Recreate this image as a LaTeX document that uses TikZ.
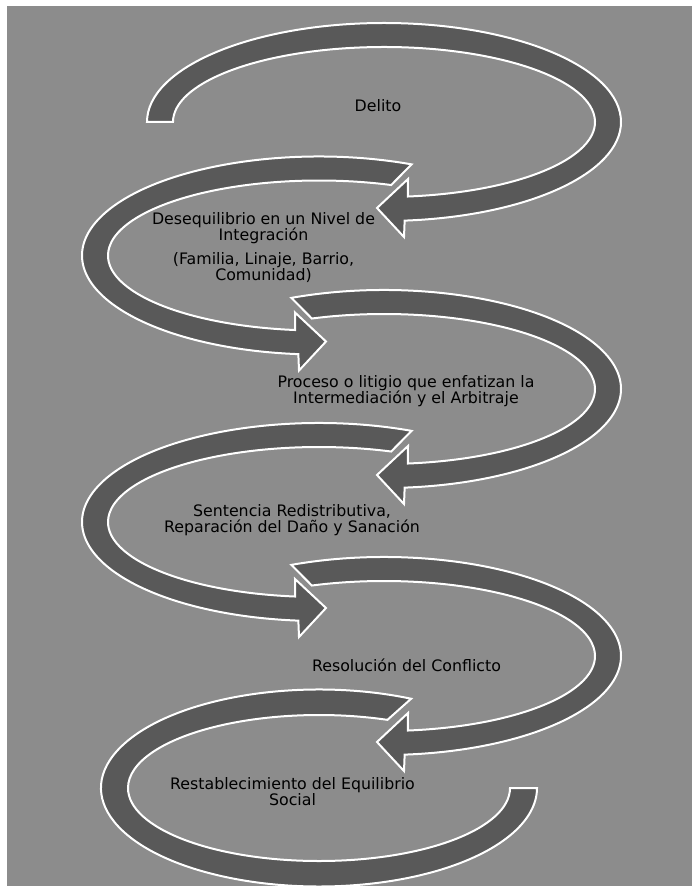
\documentclass[tikz,border=0pt]{standalone}
\usepackage{fontspec}
\setmainfont{DejaVu Sans}
\definecolor{bggray}{RGB}{140,140,140}
\definecolor{bandgray}{RGB}{89,89,89}
\begin{document}
\begin{tikzpicture}[x=1pt, y=1pt]
\tikzset{ band/.style={fill=bandgray, draw=white, line width=2pt},
  lbl/.style={align=center, inner sep=0pt, text=black, font=\fontsize{15.8}{16}\selectfont} }

\useasboundingbox (0,0) rectangle (692,-890);
\fill [bggray] (7,-6) rectangle (692,-886);

% arrow 1 (flat tail on the left)
\draw [band, shift={(384,-122)}] (180:237 and 99) arc [start angle=180, end angle=-85, x radius=237, y radius=99]
  -- (20,-115) -- (-7,-86) -- (24,-57) -- (-83.5:211 and 75) arc [start angle=-83.5, end angle=180, x radius=211, y radius=75] -- cycle;

% arrow 2
\draw [band, shift={(319,-255.5)}] (67:237 and 99) arc [start angle=67, end angle=265, x radius=237, y radius=99]
  -- (-20,-115) -- (7,-86) -- (-24,-57) -- (263.5:211 and 75) arc [start angle=263.5, end angle=70, x radius=211, y radius=75] -- cycle;

% arrow 3
\draw [band, shift={(384,-389)}] (113:237 and 99) arc [start angle=113, end angle=-85, x radius=237, y radius=99]
  -- (20,-115) -- (-7,-86) -- (24,-57) -- (-83.5:211 and 75) arc [start angle=-83.5, end angle=110, x radius=211, y radius=75] -- cycle;

% arrow 4
\draw [band, shift={(319,-522)}] (67:237 and 99) arc [start angle=67, end angle=265, x radius=237, y radius=99]
  -- (-20,-115) -- (7,-86) -- (-24,-57) -- (263.5:211 and 75) arc [start angle=263.5, end angle=70, x radius=211, y radius=75] -- cycle;

% arrow 5
\draw [band, shift={(384,-656)}] (113:237 and 99) arc [start angle=113, end angle=-85, x radius=237, y radius=99]
  -- (20,-115) -- (-7,-86) -- (24,-57) -- (-83.5:211 and 75) arc [start angle=-83.5, end angle=110, x radius=211, y radius=75] -- cycle;

% arrow 6 (no head, flat end on the right)
\draw [band, shift={(319,-788)}] (65:218 and 98.5) arc [start angle=65, end angle=360, x radius=218, y radius=98.5]
  -- (191,0) arc [start angle=360, end angle=69, x radius=191, y radius=73] -- cycle;

\node [lbl] (delito) at (378,-106) {Delito};
\node [lbl] (deseq) at (263.5,-248) {Desequilibrio en un Nivel de\\Integración\\[8pt](Familia, Linaje, Barrio,\\Comunidad)};
\node [lbl] (proceso) at (406,-391.5) {Proceso o litigio que enfatizan la\\Intermediación y el Arbitraje};
\node [lbl] (sentencia) at (292,-520.5) {Sentencia Redistributiva,\\Reparación del Daño y Sanación};
\node [lbl] (resol) at (406.5,-665) {Resolución del Conflicto};
\node [lbl] (restab) at (292.5,-792) {Restablecimiento del Equilibrio\\Social};

\end{tikzpicture}
\end{document}
